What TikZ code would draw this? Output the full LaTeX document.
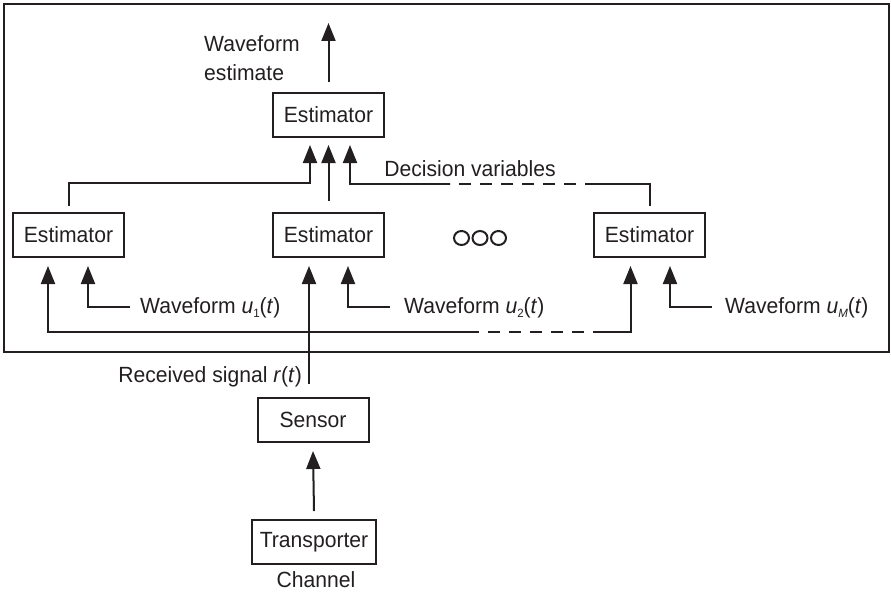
\documentclass[tikz,border=0pt]{standalone}
\usepackage{fontspec}
\setmainfont{Liberation Sans}[FakeStretch=0.96]
\usetikzlibrary{arrows.meta}
\definecolor{ink}{HTML}{231F20}
% small lowered index, as in u_1(t)
\newcommand\lowidx[1]{\raisebox{-4pt}{\fontsize{12}{12}\selectfont #1}}
\tikzset{
    block/.style = {draw, line width=2pt, minimum width=111pt, minimum height=44pt, inner sep=0pt},
    wire/.style = {line width=2pt},
    sig/.style = {wire, -{Triangle[length=18pt, width=14pt]}},
    gap/.style = {wire, dash pattern=on 12pt off 9pt},
    lbl/.style = {inner sep=0pt, anchor=base west}
}
\begin{document}
\begin{tikzpicture}[x=1pt, y=-1pt, color=ink, font=\fontsize{22}{26}\selectfont]
    \useasboundingbox (0, 0) rectangle (891, 594);
    % receiver frame
    \draw [line width=2.2pt] (4, 4) rectangle (889, 352);

    \node [block] (top) at (328.5, 115) {Estimator};
    \node [block] (est1) at (68.5, 235) {Estimator};
    \node [block] (est2) at (328.5, 235) {Estimator};
    \node [block] (estM) at (649.5, 235) {Estimator};
    \node [block] (sensor) at (313, 420) {Sensor};
    \node [block, minimum width=124pt] (trans) at (314, 542) {Transporter};
    \node [inner sep=0pt] (chan) at (316, 580) {Channel};

    \foreach \i in {0, 1, 2}
        \draw [wire] (461.5 + 18.5*\i, 238) ellipse [x radius=7.5pt, y radius=7pt];

    \node [lbl] (wave) at (204, 51.5) {Waveform};
    \node [lbl] (estim) at (204, 80.5) {estimate};
    \node [lbl, anchor=base] (decvar) at (470, 176) {Decision variables};
    \node [lbl] (u1) at (140, 313) {Waveform \textit{u}\lowidx{1}(\textit{t})};
    \node [lbl] (u2) at (404, 313) {Waveform \textit{u}\lowidx{2}(\textit{t})};
    \node [lbl] (uM) at (725, 313) {Waveform \textit{u}\lowidx{\textit{M}}(\textit{t})};
    \node [lbl, anchor=base east] (rlbl) at (302, 382) {Received signal \textit{r}(\textit{t})};

    \coordinate (out) at (328.5, 23);
    \coordinate (dv1) at (597, 184);
    \coordinate (dv2) at (450, 184);
    \coordinate (rx1) at (467, 332);
    \coordinate (rx2) at (597, 332);
    \coordinate (rs) at (309, 384);

    % decision variables up to the top estimator
    \draw [sig] ([yshift=10pt]top.north) -- (out);
    \draw [sig] ([yshift=6pt]est1.north) -- ++(0, -23) -| ([xshift=-18.5pt, yshift=-7pt]top.south);
    \draw [sig] ([yshift=11pt]est2.north) -- ([yshift=-7pt]top.south);
    \draw [wire] ([yshift=6pt]estM.north) |- (dv1);
    \draw [gap] (dv1) -- (dv2);
    \draw [sig] (dv2) -| ([xshift=21.5pt, yshift=-7pt]top.south);

    % waveform inputs
    \draw [sig] ([xshift=-10pt]u1.west) -| ([xshift=19.5pt, yshift=-8pt]est1.south);
    \draw [sig] ([xshift=-14pt]u2.west) -| ([xshift=19.5pt, yshift=-8pt]est2.south);
    \draw [sig] ([xshift=-13pt]uM.west) -| ([xshift=20.5pt, yshift=-8pt]estM.south);

    % received signal
    \draw [sig] (rx1) -| ([xshift=-20.5pt, yshift=-8pt]est1.south);
    \draw [gap] (rx1) -- (rx2);
    \draw [sig] (rx2) -| ([xshift=-19pt, yshift=-8pt]estM.south);
    \draw [sig] (rs) -- ([xshift=-19.5pt, yshift=-8pt]est2.south);

    \draw [sig] ([yshift=8pt]trans.north) -- ([yshift=-8pt]sensor.south);
\end{tikzpicture}
\end{document}
